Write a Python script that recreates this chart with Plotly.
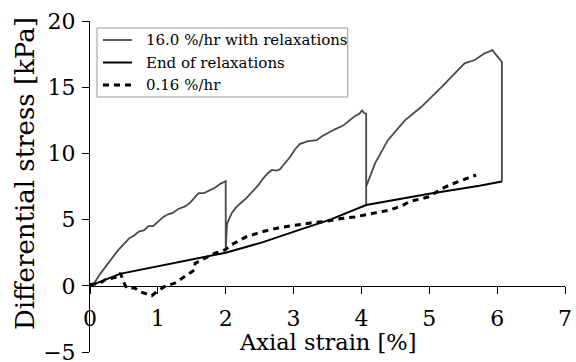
import plotly.graph_objects as go

# 16.0 %/hr with relaxations
fast_x = [0.0, 0.05, 0.15, 0.25, 0.32, 0.40, 0.47, 0.52, 0.58, 0.65, 0.72, 0.80, 0.86, 0.93,
          1.00, 1.08, 1.15, 1.22, 1.30, 1.40, 1.48, 1.55, 1.60, 1.68, 1.75, 1.84, 1.92, 1.98,
          2.00, 2.00, 2.01, 2.02, 2.09, 2.15, 2.21, 2.30, 2.41, 2.48, 2.55, 2.62, 2.68, 2.75,
          2.80, 2.88, 2.95, 3.02, 3.09, 3.20, 3.34, 3.42, 3.49, 3.60, 3.73, 3.82, 3.90, 3.97,
          4.01, 4.04, 4.07, 4.07, 4.07, 4.20, 4.39, 4.64, 4.88, 5.18, 5.37, 5.52, 5.67, 5.81,
          5.93, 6.07, 6.07]
fast_y = [0.0, 0.1, 0.9, 1.6, 2.0, 2.6, 3.0, 3.3, 3.6, 3.8, 4.1, 4.2, 4.5, 4.5,
          4.8, 5.2, 5.4, 5.5, 5.8, 6.0, 6.3, 6.7, 7.0, 7.0, 7.2, 7.4, 7.7, 7.9,
          7.9, 2.7, 4.2, 4.7, 5.5, 5.9, 6.2, 6.6, 7.2, 7.6, 8.1, 8.5, 8.75, 8.7,
          8.8, 9.3, 9.75, 10.3, 10.7, 10.9, 11.0, 11.3, 11.5, 11.8, 12.1, 12.5, 12.8, 13.0,
          13.25, 13.05, 13.0, 6.1, 7.5, 9.25, 11.0, 12.5, 13.5, 15.0, 16.0, 16.8, 17.05, 17.55,
          17.8, 16.9, 7.87]

# End of relaxations
end_x = [0.0, 0.44, 2.00, 2.55, 3.04, 3.53, 4.07, 5.00, 5.74, 6.07]
end_y = [0.0, 0.90, 2.50, 3.30, 4.15, 4.98, 6.10, 6.95, 7.55, 7.87]

# 0.16 %/hr
slow_x = [0.0, 0.15, 0.22, 0.35, 0.42, 0.45, 0.49, 0.54, 0.66, 0.73, 0.80, 0.91, 0.96,
          1.10, 1.25, 1.40, 1.54, 1.55, 1.69, 1.84, 1.99, 2.08, 2.30, 2.55, 2.80, 3.04,
          3.25, 3.44, 3.60, 3.73, 3.90, 4.07, 4.25, 4.42, 4.60, 4.71, 5.00, 5.15, 5.30,
          5.49, 5.69]
slow_y = [0.1, 0.2, 0.45, 0.6, 0.7, 0.96, 0.33, -0.17, -0.17, -0.43, -0.55, -0.75, -0.55,
          -0.05, 0.2, 0.7, 1.2, 1.7, 2.09, 2.46, 2.71, 3.09, 3.7, 4.1, 4.4, 4.6,
          4.75, 4.85, 5.0, 5.1, 5.2, 5.35, 5.55, 5.73, 6.05, 6.36, 6.73, 7.24, 7.62,
          7.99, 8.37]

x_ticks = [0, 1, 2, 3, 4, 5, 6, 7]
y_ticks = [-5, 0, 5, 10, 15, 20]
x_title = "Axial strain [%]"
y_title = "Differential stress [kPa]"

FONT = "DejaVu Serif"

# plot-area geometry (pixels) used to place the hand-drawn legend
L, R, T, B = 90, 565.5, 21, 352
W, H = R - L, B - T


def px(xp):
    return (xp - L) / W


def py(yp):
    return (B - yp) / H


series = [
    dict(x=fast_x, y=fast_y, name="16.0 %/hr with relaxations",
         line=dict(color="#4a4a4a", width=1.8)),
    dict(x=end_x, y=end_y, name="End of relaxations",
         line=dict(color="black", width=2)),
    dict(x=slow_x, y=slow_y, name="0.16 %/hr",
         line=dict(color="black", width=3, dash="6px,5px")),
]

fig = go.Figure()
for s in series:
    fig.add_trace(go.Scatter(x=s["x"], y=s["y"], mode="lines", name=s["name"],
                             line=s["line"], showlegend=False))

# legend box
shapes = [dict(type="rect", xref="paper", yref="paper",
               x0=px(97), x1=px(348), y0=py(97), y1=py(28),
               line=dict(color="#999999", width=1), fillcolor="white", layer="above")]
annotations = []
rows = [40, 62.5, 85]
for s, ry in zip(series, rows):
    ln = s["line"]
    shapes.append(dict(type="line", xref="paper", yref="paper",
                       x0=px(103), x1=px(132), y0=py(ry), y1=py(ry),
                       line=dict(color=ln["color"], width=ln["width"],
                                 dash=ln.get("dash", "solid")), layer="above"))
    annotations.append(dict(text=s["name"], xref="paper", yref="paper",
                            x=px(144), y=py(ry), xanchor="left", yanchor="middle",
                            showarrow=False, font=dict(family=FONT, size=15)))

# axis titles
annotations.append(dict(text=x_title, xref="paper", yref="paper",
                        x=px((L + R) / 2), y=py(341.5), xanchor="center", yanchor="middle",
                        showarrow=False, font=dict(family=FONT, size=22.5)))
annotations.append(dict(text=y_title, xref="paper", yref="paper",
                        x=px(25), y=py(174), xanchor="center", yanchor="middle",
                        textangle=-90, showarrow=False, font=dict(family=FONT, size=26)))

fig.update_layout(
    width=576, height=362,
    margin=dict(l=L, r=576 - R, t=T, b=362 - B),
    plot_bgcolor="white", paper_bgcolor="white",
    font=dict(family=FONT, size=22, color="black"),
    showlegend=False,
    shapes=shapes,
    annotations=annotations,
    xaxis=dict(range=[0, 7], tickvals=x_ticks, showline=True, linecolor="black", linewidth=1,
               ticks="outside", ticklen=7, tickcolor="black", showgrid=False, zeroline=False,
               anchor="free", position=0.2, ticklabeloverflow="allow", automargin=False,
               ticklabelstandoff=6, tickfont=dict(family=FONT, size=22)),
    yaxis=dict(range=[-5, 20], tickvals=y_ticks, showline=True, linecolor="black", linewidth=1,
               ticks="outside", ticklen=7, tickcolor="black", showgrid=False, zeroline=False,
               ticklabeloverflow="allow", automargin=False, ticklabelstandoff=2,
               tickfont=dict(family=FONT, size=22)),
)

fig.write_html("out.html")
